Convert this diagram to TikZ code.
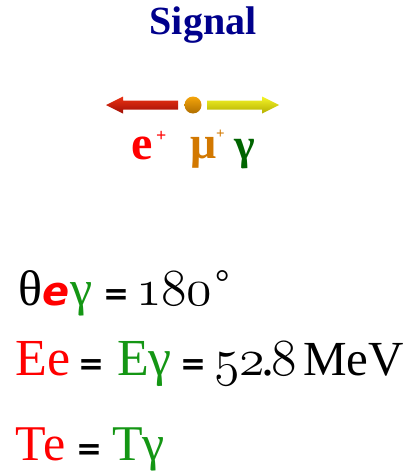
\documentclass[tikz,border=0pt]{standalone}
\usepackage{fontspec}
\setmainfont{Liberation Serif}
\newfontfamily\dejavu{DejaVu Sans}
\font\osfbig=cmmi12 at 52pt
\definecolor{signalblue}{RGB}{0,0,140}
\definecolor{ered}{RGB}{255,0,0}
\definecolor{muorange}{RGB}{210,120,0}
\definecolor{gdark}{RGB}{0,100,0}
\definecolor{gbright}{RGB}{20,150,20}
\definecolor{arrRedTop}{RGB}{235,50,20}
\definecolor{arrRedBot}{RGB}{160,15,5}
\definecolor{arrYelTop}{RGB}{245,245,40}
\definecolor{arrYelBot}{RGB}{180,175,0}
\definecolor{dotTop}{RGB}{245,165,10}
\definecolor{dotBot}{RGB}{175,110,0}
\begin{document}
\begin{tikzpicture}[x=1pt,y=-1pt,
  tx/.style={inner sep=0pt,outer sep=0pt,anchor=base west},
  eqsign/.style={tx,font=\fontsize{31}{35}\selectfont\dejavu\bfseries,text=black},
  big/.style={font=\fontsize{#1}{#1}\selectfont},
  bigbf/.style={font=\fontsize{#1}{#1}\selectfont\bfseries}]
\useasboundingbox (0,0) rectangle (410,471);
% title
\node[inner sep=0pt,anchor=base,bigbf=40,text=signalblue] (signal) at (203,34.5) {Signal};
% arrows and dot
\shade[top color=arrRedTop,bottom color=arrRedBot] (106,105) -- (123,96.5) -- (123,100.5) -- (178,100.5) -- (178,109.5) -- (123,109.5) -- (123,113.5) -- cycle;
\shade[top color=arrYelTop,bottom color=arrYelBot] (279,105) -- (262,96.5) -- (262,100.5) -- (207,100.5) -- (207,109.5) -- (262,109.5) -- (262,113.5) -- cycle;
\shade[top color=dotTop,bottom color=dotBot] (193,105) circle (8.5pt);
% particle labels
\node[tx,bigbf=48,text=ered] (ep) at (131,159) {e};
\node[tx,bigbf=18,text=ered] (epp) at (156,141) {+};
\node[tx,bigbf=46,text=muorange] (mu) at (190,158) {μ};
\node[tx,bigbf=15,text=muorange] (mup) at (216,138.5) {+};
\node[tx,bigbf=44,text=gdark] (ga) at (234,159) {γ};
% line 1
\node[tx,big=50,text=black] (theta) at (18,305) {θ};
\node[tx,font=\fontsize{40}{44}\selectfont\dejavu\bfseries\itshape,text=ered] (e1) at (42,305) {e};
\node[tx,big=50,text=gbright] (g1) at (70,305) {γ};
\node[eqsign] (eq1) at (103,304) {=};
\node[tx,font=\osfbig,text=black] (n180) at (136,305) {180};
\node[inner sep=0pt,anchor=north west,big=36,text=black] (deg) at (215,270) {°};
% line 2
\node[tx,big=52,text=ered] (Ee) at (16,375) {Ee};
\node[eqsign] (eq2) at (78,374) {=};
\node[tx,big=52,text=gbright] (Eg) at (117,375) {Eγ};
\node[eqsign] (eq3) at (180,374) {=};
\node[tx,font=\osfbig,text=black] (n52) at (214,375) {52};
\node[tx,big=52,text=black] (dot) at (261,375) {.};
\node[tx,font=\osfbig,text=black] (n8) at (271,375) {8};
\node[tx,big=49,text=black] (mev) at (303,375) {MeV};
% line 3
\node[tx,big=50,text=ered] (Te) at (16,460) {Te};
\node[eqsign] (eq4) at (76,459) {=};
\node[tx,big=50,text=gbright] (Tg) at (112,460) {Tγ};
\end{tikzpicture}
\end{document}
